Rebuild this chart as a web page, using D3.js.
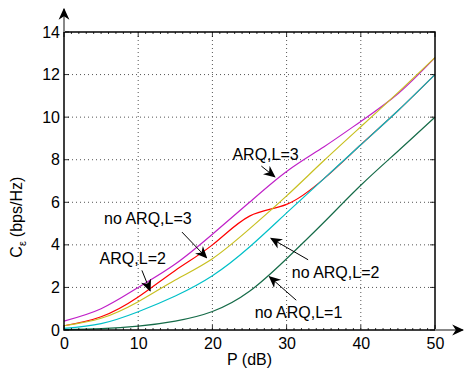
<!DOCTYPE html>
<html>
<head>
<meta charset="utf-8">
<script src="https://cdn.jsdelivr.net/npm/d3@7"></script>
<style>
  body { margin: 0; background: #fff; }
  text { font-family: "Liberation Sans", Arial, Helvetica, sans-serif; }
</style>
</head>
<body>
<div id="chart"></div>
<script>
// data
var pdB = [0, 5, 10, 15, 20, 25, 30, 35, 40, 45, 50];
var arqL3   = [0.42, 1.0, 2.0, 3.1, 4.5, 6.0, 7.45, 8.6, 9.8, 11.1, 12.8];
var noArqL3 = [0.2, 0.55, 1.33, 2.35, 3.35, 4.75, 6.3, 7.95, 9.55, 11.15, 12.8];
var arqL2   = [0.2, 0.62, 1.55, 2.8, 4.0, 5.35, 5.9, 7.1, 8.7, 10.3, 12.0];
var noArqL2 = [0.08, 0.3, 0.86, 1.6, 2.55, 3.9, 5.5, 7.1, 8.7, 10.3, 12.0];
var noArqL1 = [0.02, 0.06, 0.18, 0.42, 0.87, 1.82, 3.35, 5.05, 6.8, 8.4, 10.0];

var xTicks = [0, 10, 20, 30, 40, 50];
var yTicks = [0, 2, 4, 6, 8, 10, 12, 14];

var series = [
    { name: "no ARQ,L=1", values: noArqL1, color: "#156b48" },
    { name: "ARQ,L=2", values: arqL2, color: "#ff0000" },
    { name: "no ARQ,L=2", values: noArqL2, color: "#00c0c8" },
    { name: "ARQ,L=3", values: arqL3, color: "#c020c8" },
    { name: "no ARQ,L=3", values: noArqL3, color: "#c8c020" }
];

// label text, text anchor point, arrow start, arrow tip (in data units)
var notes = [
    { text: "ARQ,L=3",    tx: 22.7, ty: 8.0,  from: [26.6, 7.7],  to: [28.4, 7.2] },
    { text: "no ARQ,L=3", tx: 5.4,  ty: 5.0,  from: [15.9, 4.6],  to: [19.2, 3.4] },
    { text: "ARQ,L=2",    tx: 4.8,  ty: 3.1,  from: [10.5, 2.8],  to: [11.6, 1.85] },
    { text: "no ARQ,L=2", tx: 30.7, ty: 2.45, from: [32.9, 3.3],  to: [27.9, 4.3] },
    { text: "no ARQ,L=1", tx: 25.7, ty: 0.55, from: [31.3, 1.4],  to: [27.7, 2.5] }
];

var margin = { top: 32, right: 29, bottom: 43, left: 64 },
    width = 464 - margin.left - margin.right,
    height = 373 - margin.top - margin.bottom;

var svg = d3.select("#chart").append("svg")
    .attr("width", 464)
    .attr("height", 373);

var defs = svg.append("defs");
defs.append("marker")
    .attr("id", "head")
    .attr("viewBox", "0 0 10 10")
    .attr("refX", 9).attr("refY", 5)
    .attr("markerWidth", 12).attr("markerHeight", 12)
    .attr("markerUnits", "userSpaceOnUse")
    .attr("orient", "auto")
    .append("path")
    .attr("d", "M0,0.5 L10,5 L0,9.5 L3,5 Z")
    .attr("fill", "#000");

var g = svg.append("g")
    .attr("transform", "translate(" + margin.left + "," + margin.top + ")");

var x = d3.scaleLinear().domain([0, 50]).range([0, width]);
var y = d3.scaleLinear().domain([0, 14]).range([height, 0]);

// grid
g.append("g").selectAll("line")
    .data(xTicks.slice(1, -1))
    .enter().append("line")
    .attr("x1", d => x(d)).attr("x2", d => x(d))
    .attr("y1", 0).attr("y2", height)
    .attr("stroke", "#555").attr("stroke-width", 1)
    .attr("stroke-dasharray", "1,3");
g.append("g").selectAll("line")
    .data(yTicks.slice(1, -1))
    .enter().append("line")
    .attr("y1", d => y(d)).attr("y2", d => y(d))
    .attr("x1", 0).attr("x2", width)
    .attr("stroke", "#555").attr("stroke-width", 1)
    .attr("stroke-dasharray", "1,3");

// curves
var line = d3.line()
    .x((d, i) => x(pdB[i]))
    .y(d => y(d))
    .curve(d3.curveNatural);

g.append("g").selectAll("path")
    .data(series)
    .enter().append("path")
    .attr("d", d => line(d.values))
    .attr("fill", "none")
    .attr("stroke", d => d.color)
    .attr("stroke-width", 1.2);

// axes
var xAxis = d3.axisBottom(x).tickValues(xTicks).tickSize(0).tickPadding(8);
var yAxis = d3.axisLeft(y).tickValues(yTicks).tickSize(0).tickPadding(4);

g.append("g")
    .attr("transform", "translate(0," + height + ")")
    .call(xAxis)
    .call(s => s.select(".domain").remove())
    .selectAll("text").attr("font-size", 16).attr("fill", "#000");

g.append("g")
    .call(yAxis)
    .call(s => s.select(".domain").remove())
    .selectAll("text").attr("font-size", 16).attr("fill", "#000");

// minor and major ticks, inward
var minor = d3.range(0, 51, 1);
[0, height].forEach(function (yy) {
    var dir = yy === 0 ? 1 : -1;
    g.append("g").selectAll("line")
        .data(minor)
        .enter().append("line")
        .attr("x1", d => x(d)).attr("x2", d => x(d))
        .attr("y1", yy).attr("y2", d => yy + dir * (d % 10 === 0 ? 5 : 2))
        .attr("stroke", "#000").attr("stroke-width", 0.8);
});
[0, width].forEach(function (xx) {
    var dir = xx === 0 ? 1 : -1;
    g.append("g").selectAll("line")
        .data(yTicks)
        .enter().append("line")
        .attr("y1", d => y(d)).attr("y2", d => y(d))
        .attr("x1", xx).attr("x2", xx + dir * 5)
        .attr("stroke", "#000").attr("stroke-width", 0.8);
});

// frame
g.append("rect")
    .attr("width", width).attr("height", height)
    .attr("fill", "none")
    .attr("stroke", "#000").attr("stroke-width", 1.5);

// axis arrows
g.append("line")
    .attr("x1", 0).attr("x2", 0)
    .attr("y1", 0).attr("y2", -23)
    .attr("stroke", "#888").attr("stroke-width", 2)
    .attr("marker-end", "url(#head)");
g.append("line")
    .attr("x1", width).attr("x2", width + 28)
    .attr("y1", height).attr("y2", height)
    .attr("stroke", "#888").attr("stroke-width", 2)
    .attr("marker-end", "url(#head)");

// annotations
var ann = g.append("g");
ann.selectAll("line")
    .data(notes)
    .enter().append("line")
    .attr("x1", d => x(d.from[0])).attr("y1", d => y(d.from[1]))
    .attr("x2", d => x(d.to[0])).attr("y2", d => y(d.to[1]))
    .attr("stroke", "#000").attr("stroke-width", 1)
    .attr("marker-end", "url(#head)");
ann.selectAll("text")
    .data(notes)
    .enter().append("text")
    .attr("x", d => x(d.tx)).attr("y", d => y(d.ty))
    .attr("font-size", 16)
    .attr("fill", "#000")
    .text(d => d.text);

// axis titles
svg.append("text")
    .attr("x", margin.left + x(25))
    .attr("y", 365)
    .attr("text-anchor", "middle")
    .attr("font-size", 16)
    .text("P (dB)");

var yl = svg.append("text")
    .attr("transform", "translate(22," + (margin.top + y(5.3)) + ") rotate(-90)")
    .attr("text-anchor", "middle")
    .attr("font-size", 16);
yl.append("tspan").text("C");
yl.append("tspan").attr("font-size", 11).attr("dy", 4).text("ε");
yl.append("tspan").attr("dy", -4).attr("dx", 4).text("(bps/Hz)");
</script>
</body>
</html>
